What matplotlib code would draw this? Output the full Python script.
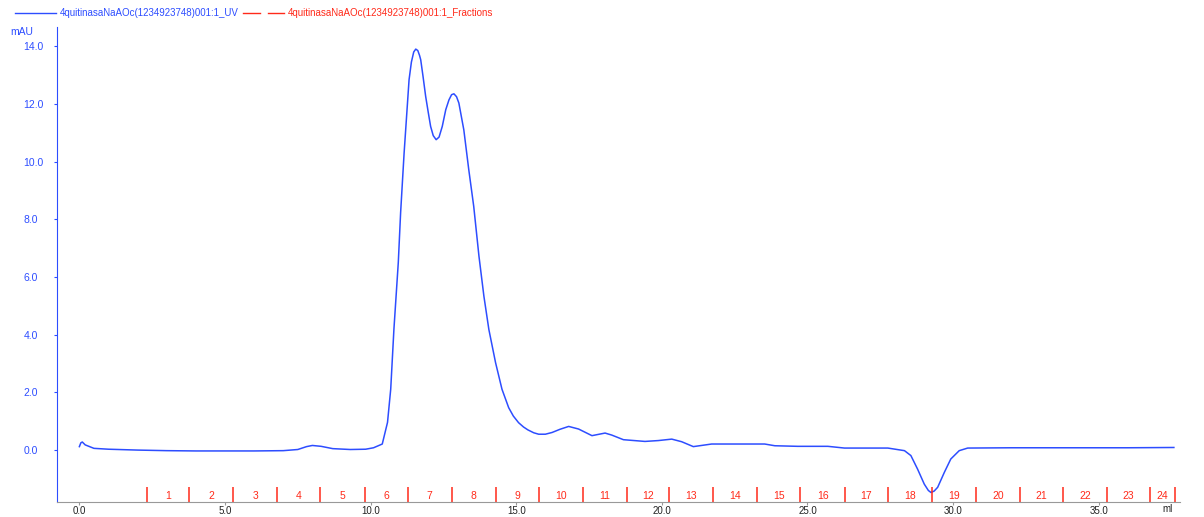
import matplotlib.pyplot as plt
from matplotlib.lines import Line2D

plt.rcParams['font.family'] = ['Liberation Sans', 'DejaVu Sans']

# UV trace (ml, mAU)
vol = [0.0, 0.05, 0.1, 0.2, 0.5, 1.0, 2.0, 3.0, 4.0, 5.0, 6.0, 7.0, 7.5, 7.8, 8.0, 8.3, 8.7,
       9.3, 9.83, 10.1, 10.4, 10.58, 10.69, 10.8, 10.95, 11.03, 11.15, 11.32, 11.4, 11.48,
       11.55, 11.62, 11.68, 11.72, 11.8, 11.89, 11.98, 12.06, 12.15, 12.25, 12.35, 12.46,
       12.58, 12.69, 12.78, 12.86, 12.95, 13.03, 13.2, 13.37, 13.54, 13.72, 13.89, 14.06,
       14.29, 14.51, 14.74, 14.9, 15.08, 15.25, 15.4, 15.6, 15.77, 16.0, 16.23, 16.5, 16.8,
       17.14, 17.6, 18.05, 18.28, 18.68, 19.42, 19.88, 20.34, 20.68, 21.08, 21.71, 23.53,
       23.88, 24.67, 25.7, 26.27, 27.76, 28.33, 28.55, 28.78, 29.01, 29.15, 29.24, 29.35,
       29.47, 29.7, 29.92, 30.21, 30.5, 32.0, 34.0, 36.0, 37.58]
uv = [0.12, 0.25, 0.28, 0.18, 0.06, 0.03, 0.0, -0.02, -0.03, -0.03, -0.03, -0.02, 0.02,
      0.12, 0.16, 0.13, 0.05, 0.02, 0.03, 0.08, 0.21, 0.96, 2.11, 4.19, 6.5, 8.23, 10.3,
      12.84, 13.45, 13.8, 13.9, 13.85, 13.68, 13.53, 12.95, 12.26, 11.7, 11.22, 10.9,
      10.76, 10.85, 11.22, 11.8, 12.14, 12.32, 12.35, 12.25, 12.03, 11.1, 9.72, 8.45, 6.72,
      5.33, 4.18, 3.03, 2.11, 1.47, 1.18, 0.95, 0.8, 0.7, 0.6, 0.55, 0.55, 0.61, 0.72,
      0.82, 0.73, 0.5, 0.59, 0.52, 0.36, 0.3, 0.33, 0.38, 0.29, 0.12, 0.21, 0.21, 0.15,
      0.13, 0.13, 0.07, 0.07, -0.02, -0.19, -0.66, -1.18, -1.4, -1.47, -1.42, -1.29, -0.77,
      -0.31, -0.02, 0.07, 0.08, 0.08, 0.08, 0.09]

# fraction boundaries (ml) and fraction numbers
frac_edges = [2.31, 3.78, 5.29, 6.80, 8.27, 9.81, 11.28, 12.78, 14.31, 15.79, 17.30, 18.80,
              20.26, 21.76, 23.27, 24.75, 26.29, 27.76, 29.26, 30.79, 32.30, 33.77, 35.29,
              36.75, 37.61]
frac_labels = [str(i) for i in range(1, 25)]

blue = '#2d4dff'
red = '#ff2a1a'

fig = plt.figure(figsize=(12.04, 5.17), dpi=100)
ax = fig.add_axes([0.0473, 0.029, 0.933, 0.919])

ax.plot(vol, uv, color=blue, lw=1.1)

ax.vlines(frac_edges, 0, 0.032, color=red, lw=1.1, transform=ax.get_xaxis_transform())
for a, b, lab in zip(frac_edges[:-1], frac_edges[1:], frac_labels):
    ax.text((a + b) / 2, 0.012, lab, color=red, fontsize=7.5, ha='center', va='center',
            transform=ax.get_xaxis_transform())

ax.set_xlim(-0.77, 37.8)
ax.set_ylim(-1.8, 14.67)

for s in ['top', 'right']:
    ax.spines[s].set_visible(False)
ax.spines['left'].set_color(blue)
ax.spines['bottom'].set_color('#999999')

ax.set_yticks([0, 2, 4, 6, 8, 10, 12, 14])
ax.set_yticklabels([f'{v:.1f}' for v in [0, 2, 4, 6, 8, 10, 12, 14]])
ax.tick_params(axis='y', colors=blue, labelsize=7.5, length=2, pad=22)
ax.set_xticks([0, 5, 10, 15, 20, 25, 30, 35])
ax.set_xticklabels([f'{v:.1f}' for v in [0, 5, 10, 15, 20, 25, 30, 35]])
ax.tick_params(axis='x', colors='#999999', labelcolor='#222222', labelsize=7, length=2, pad=1)
for lab in ax.get_yticklabels():
    lab.set_horizontalalignment('left')

fig.text(10 / 1204, 1 - 32 / 517, 'mAU', color=blue, fontsize=7.5, va='center')
fig.text(1162 / 1204, 1 - 509 / 517, 'ml', color='#222222', fontsize=7, va='center')

# header legend
fig.add_artist(Line2D([15 / 1204, 56 / 1204], [1 - 13 / 517] * 2, color=blue, lw=1))
fig.text(60 / 1204, 1 - 13 / 517, '4quitinasaNaAOc(1234923748)001:1_UV', color=blue,
         fontsize=7, va='center')
fig.add_artist(Line2D([243 / 1204, 260 / 1204], [1 - 13 / 517] * 2, color=red, lw=1))
fig.add_artist(Line2D([268 / 1204, 284 / 1204], [1 - 13 / 517] * 2, color=red, lw=1))
fig.text(288 / 1204, 1 - 13 / 517, '4quitinasaNaAOc(1234923748)001:1_Fractions', color=red,
         fontsize=7, va='center')

fig.savefig('out.png', dpi=100)
